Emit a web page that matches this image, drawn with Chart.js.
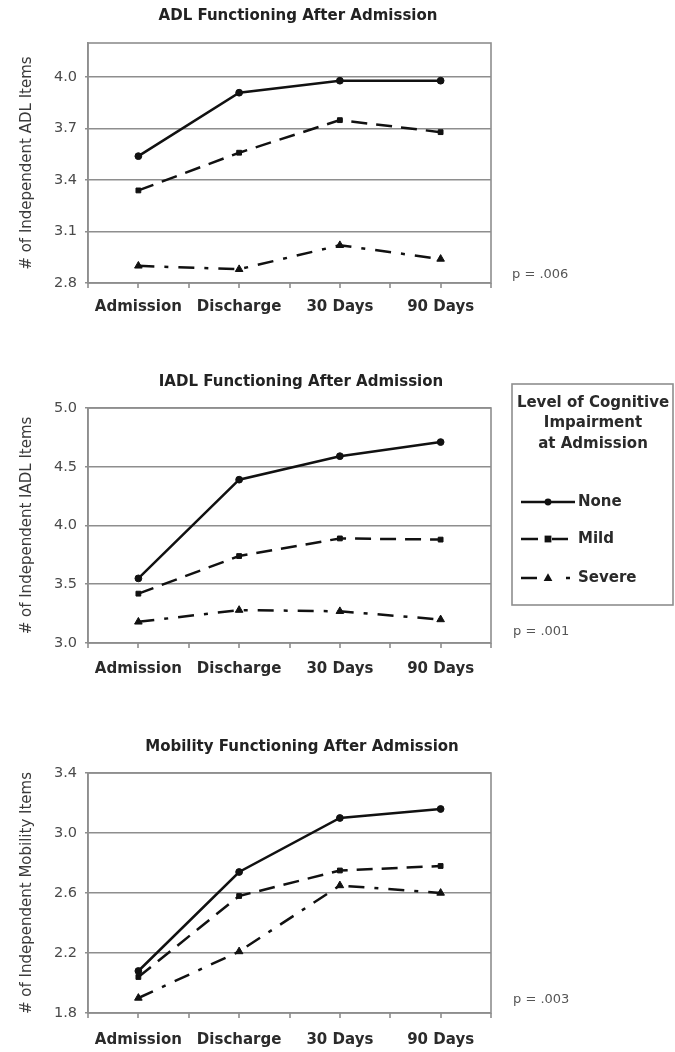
<!DOCTYPE html>
<html>
<head>
<meta charset="utf-8">
<title>Functioning After Admission</title>
<script src="https://cdn.jsdelivr.net/npm/chart.js@4.4.0/dist/chart.umd.min.js"></script>
<style>
  body { margin: 0; background: #fff; }
  .wrap { position: relative; width: 675px; height: 1052px; }
  canvas { position: absolute; left: 0; }
</style>
</head>
<body>
<div class="wrap">
  <canvas id="adlChart" width="675" height="320" style="top:0"></canvas>
  <canvas id="iadlChart" width="675" height="340" style="top:340px"></canvas>
  <canvas id="mobilityChart" width="675" height="352" style="top:700px"></canvas>
</div>
<script>
// Data
const categories = ['Admission', 'Discharge', '30 Days', '90 Days'];
const seriesNames = ['None', 'Mild', 'Severe'];

const adlNone = [3.54, 3.91, 3.98, 3.98];
const adlMild = [3.34, 3.56, 3.75, 3.68];
const adlSevere = [2.90, 2.88, 3.02, 2.94];

const iadlNone = [3.55, 4.39, 4.59, 4.71];
const iadlMild = [3.42, 3.74, 3.89, 3.88];
const iadlSevere = [3.18, 3.28, 3.27, 3.20];

const mobNone = [2.08, 2.74, 3.10, 3.16];
const mobMild = [2.04, 2.58, 2.75, 2.78];
const mobSevere = [1.90, 2.21, 2.65, 2.60];

// Tick labels and axis ranges
const adlTicks = [2.8, 3.1, 3.4, 3.7, 4.0];
const adlRange = [2.8, 4.2];
const iadlTicks = [3.0, 3.5, 4.0, 4.5, 5.0];
const iadlRange = [3.0, 5.0];
const mobTicks = [1.8, 2.2, 2.6, 3.0, 3.4];
const mobRange = [1.8, 3.4];

const pValues = ['p = .006', 'p = .001', 'p = .003'];
const legendTitle = ['Level of Cognitive', 'Impairment', 'at Admission'];

const FONT = '"DejaVu Sans", sans-serif';
const GRID = '#8e8e8e';
const INK = '#111';

// line look per impairment level; sample = legend line pieces relative to its start
const seriesStyle = [
    { dash: [], point: 'circle', radius: 3.4, sample: [[0, 54]] },
    { dash: [16, 9], point: 'rect', radius: 3.4, sample: [[0, 17], [31, 47]] },
    { dash: [16, 10, 4, 10], point: 'triangle', radius: 4.4, sample: [[0, 16], [45, 49]] }
];

function drawMarker(ctx, style, r, x, y) {
    ctx.beginPath();
    if (style === 'circle') {
        ctx.arc(x, y, r, 0, Math.PI * 2);
    } else if (style === 'rect') {
        ctx.rect(x - r, y - r, r * 2, r * 2);
    } else {
        ctx.moveTo(x, y - r * 1.1);
        ctx.lineTo(x + r, y + r * 0.7);
        ctx.lineTo(x - r, y + r * 0.7);
        ctx.closePath();
    }
    ctx.fill();
}

// frame, title, tick marks, p value and legend
const decorPlugin = {
    id: 'decor',
    afterDraw(chart, args, opts) {
        const ctx = chart.ctx;
        const area = chart.chartArea;
        const xs = chart.scales.x;
        ctx.save();

        ctx.strokeStyle = GRID;
        ctx.lineWidth = 1.6;
        ctx.strokeRect(area.left, area.top, area.right - area.left, area.bottom - area.top);

        // tick marks at category centres and between them
        const half = (xs.getPixelForTick(1) - xs.getPixelForTick(0)) / 2;
        const start = xs.getPixelForTick(0) - half;
        ctx.beginPath();
        for (let i = 0; i <= categories.length * 2; i++) {
            const px = Math.round(start + i * half);
            ctx.moveTo(px, area.bottom);
            ctx.lineTo(px, area.bottom + 5);
        }
        ctx.stroke();

        ctx.fillStyle = '#222';
        ctx.font = 'bold 15px ' + FONT;
        ctx.textAlign = 'center';
        ctx.textBaseline = 'middle';
        ctx.fillText(opts.title, opts.titleX, opts.titleY);

        ctx.fillStyle = '#555';
        ctx.font = '13px ' + FONT;
        ctx.textAlign = 'left';
        ctx.fillText(opts.pValue, opts.pX, opts.pY);

        if (opts.legend) {
            const lg = opts.legend;
            ctx.strokeStyle = GRID;
            ctx.lineWidth = 1.6;
            ctx.strokeRect(lg.x, lg.y, lg.w, lg.h);
            ctx.fillStyle = '#2a2a2a';
            ctx.font = 'bold 15px ' + FONT;
            ctx.textAlign = 'center';
            legendTitle.forEach((t, i) => ctx.fillText(t, lg.titleX, lg.titleY + i * 20.5));

            chart.data.datasets.forEach((ds, i) => {
                const y = lg.itemY[i];
                const st = seriesStyle[i];
                ctx.strokeStyle = INK;
                ctx.fillStyle = INK;
                ctx.lineWidth = 2.4;
                ctx.beginPath();
                st.sample.forEach(seg => {
                    ctx.moveTo(lg.lineX0 + seg[0], y);
                    ctx.lineTo(lg.lineX0 + seg[1], y);
                });
                ctx.stroke();
                drawMarker(ctx, st.point, st.radius, lg.markX, y);
                ctx.fillStyle = '#2a2a2a';
                ctx.textAlign = 'left';
                ctx.fillText(ds.label, lg.textX, y);
            });
        }
        ctx.restore();
    }
};

function makeChart(canvasId, cfg) {
    const canvas = document.getElementById(canvasId);
    const datasets = cfg.series.map((values, i) => ({
        label: seriesNames[i],
        data: values,
        borderColor: INK,
        backgroundColor: INK,
        borderWidth: 2.5,
        borderDash: seriesStyle[i].dash,
        pointStyle: seriesStyle[i].point,
        pointRadius: seriesStyle[i].radius,
        pointBorderWidth: 1,
        tension: 0
    }));

    return new Chart(canvas.getContext('2d'), {
        type: 'line',
        data: { labels: categories, datasets: datasets },
        plugins: [decorPlugin],
        options: {
            responsive: false,
            animation: false,
            devicePixelRatio: 1,
            layout: { padding: { top: cfg.top, right: 184, left: 0, bottom: 0 } },
            plugins: {
                legend: { display: false },
                tooltip: { enabled: false },
                decor: cfg.decor
            },
            scales: {
                x: {
                    offset: true,
                    grid: { display: false, drawTicks: false },
                    border: { display: false },
                    ticks: {
                        color: '#2b2b2b',
                        font: { family: FONT, size: 15, weight: 'bold' },
                        padding: cfg.xPad,
                        maxRotation: 0,
                        autoSkip: false
                    },
                    afterFit: s => { s.height = cfg.xHeight; }
                },
                y: {
                    min: cfg.range[0],
                    max: cfg.range[1],
                    afterBuildTicks: s => { s.ticks = cfg.ticks.map(v => ({ value: v })); },
                    afterFit: s => { s.width = 88; },
                    grid: { color: GRID, lineWidth: 1.6, tickLength: 3 },
                    border: { color: GRID, width: 1.6 },
                    ticks: {
                        color: '#4a4a4a',
                        font: { family: FONT, size: 14.5 },
                        padding: 8,
                        callback: v => v.toFixed(1)
                    },
                    title: {
                        display: true,
                        text: cfg.yTitle,
                        color: '#3a3a3a',
                        font: { family: FONT, size: 15, lineHeight: 1.2 },
                        padding: { top: 18, bottom: 0 }
                    }
                }
            }
        }
    });
}

document.addEventListener('DOMContentLoaded', function() {
    makeChart('adlChart', {
        series: [adlNone, adlMild, adlSevere],
        ticks: adlTicks,
        range: adlRange,
        yTitle: '# of Independent ADL Items',
        top: 43, xHeight: 37, xPad: 15,
        decor: { title: 'ADL Functioning After Admission', titleX: 298, titleY: 16,
                 pValue: pValues[0], pX: 512, pY: 275 }
    });

    makeChart('iadlChart', {
        series: [iadlNone, iadlMild, iadlSevere],
        ticks: iadlTicks,
        range: iadlRange,
        yTitle: '# of Independent IADL Items',
        top: 68, xHeight: 37, xPad: 17,
        decor: { title: 'IADL Functioning After Admission', titleX: 301, titleY: 42,
                 pValue: pValues[1], pX: 513, pY: 292,
                 legend: { x: 512, y: 44, w: 161, h: 221, titleX: 593, titleY: 63,
                           itemY: [162, 199, 238], lineX0: 521,
                           markX: 548, textX: 578 } }
    });

    makeChart('mobilityChart', {
        series: [mobNone, mobMild, mobSevere],
        ticks: mobTicks,
        range: mobRange,
        yTitle: '# of Independent Mobility Items',
        top: 73, xHeight: 39, xPad: 18,
        decor: { title: 'Mobility Functioning After Admission', titleX: 302, titleY: 47,
                 pValue: pValues[2], pX: 513, pY: 300 }
    });
});
</script>
</body>
</html>
